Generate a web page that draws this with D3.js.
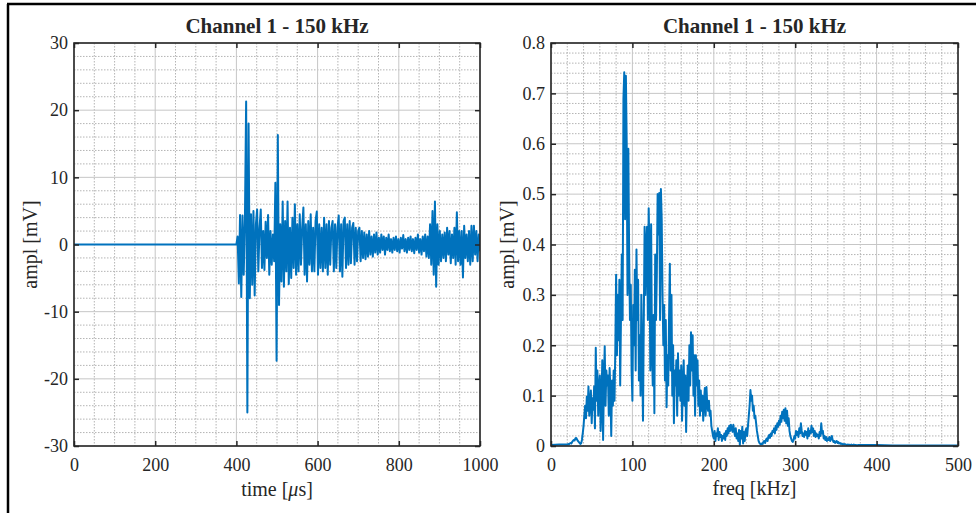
<!DOCTYPE html>
<html>
<head>
<meta charset="utf-8">
<script src="https://cdn.jsdelivr.net/npm/d3@7"></script>
<style>
  body { margin: 0; background: #fff; }
  svg { display: block; }
  text { font-family: "Liberation Serif", "Times New Roman", serif; fill: #262626; }
</style>
</head>
<body>
<svg id="fig" width="976" height="513"></svg>
<script>
// ---- Channel 1 waveform (time domain) ----
const waveStartUs = 400;
const waveStepUs = 3;
const waveMv = [
  0.0, 1.2, -5.8, 4.4, -7.8, 4.3, -4.5, 3.8, 21.3, -25.0,
  18.0, -8.0, 4.5, -6.0, 5.0, -7.6, 3.0, 5.2, -4.0, 2.5,
  5.2, -3.5, 2.0, -3.8, 3.4, -2.0, 4.4, -4.5, 2.0, -3.0,
  1.5, -2.5, 9.2, -17.3, 16.3, -9.0, 3.0, -5.5, 6.4, -6.3,
  3.5, -4.0, 6.4, -5.9, 2.5, -5.0, 4.0, -3.5, 6.0, -4.5,
  3.0, -4.0, 4.5, -3.0, 2.5, 5.5, -4.5, 3.0, -5.5, 3.5,
  -3.0, 4.5, -4.0, 2.5, -4.0, 3.5, 4.9, -4.5, 3.0, -3.5,
  2.5, -4.0, 4.0, -3.5, 3.0, -4.5, 3.5, -3.0, 2.5, 3.5,
  -4.0, 3.0, -3.5, 2.5, 4.3, -4.0, 3.0, -4.8, 3.5, 4.0,
  -3.5, 3.0, -3.0, 3.5, -2.8, 2.5, 3.2, -3.0, 2.5, -2.5,
  2.0, 2.5, -2.5, 2.0, -2.0, 1.8, -2.2, 1.5, -1.8, 2.0,
  -1.5, 1.2, -1.8, 1.5, -1.2, 1.8, -1.5, 1.0, -1.2, 1.5,
  -0.8, 1.2, -1.5, 1.0, -0.8, 1.5, -1.0, 0.8, -1.2, 1.0,
  -0.8, 1.2, -1.0, 0.8, -1.2, 1.0, -0.6, 1.4, -1.0, 0.8,
  -1.2, 1.0, -0.8, 1.2, -1.0, 0.8, -1.3, 1.0, -0.8, 1.5,
  -1.2, 0.8, -1.5, 1.2, -1.0, 1.5, -1.8, 1.2, -2.0, 3.0,
  -3.0, 5.0, -4.5, 6.4, -6.3, 3.0, -3.0, 2.0, -2.5, 1.5,
  -2.0, 1.8, -2.5, 2.5, -1.5, 2.0, -2.8, 1.5, -2.0, 2.5,
  -3.0, 4.8, -2.5, 2.0, -3.0, 2.0, -4.9, 2.8, -2.0, 1.5,
  -2.5, 2.0, -3.0, 2.8, -2.5, 2.8, -1.5, 2.0, -2.5, 1.5,
  -1.0
];

// ---- Channel 1 amplitude spectrum ----
const specHeadKHz = [0, 10, 19];
const specHeadMv = [0.002, 0.003, 0.003];
const specStartKHz = 20;
const specStepKHz = 1;
const specMv = [
  // 20-29
  0.003, 0.004, 0.003, 0.005, 0.006, 0.005, 0.008, 0.010, 0.012, 0.011,
  // 30-39
  0.015, 0.016, 0.013, 0.010, 0.008, 0.006, 0.004, 0.005, 0.012, 0.025,
  // 40-49
  0.040, 0.062, 0.080, 0.055, 0.098, 0.070, 0.118, 0.060, 0.085, 0.110,
  // 50-59
  0.045, 0.095, 0.072, 0.118, 0.035, 0.195, 0.090, 0.150, 0.060, 0.115,
  // 60-69
  0.140, 0.030, 0.085, 0.170, 0.012, 0.125, 0.198, 0.080, 0.150, 0.120,
  // 70-79
  0.140, 0.060, 0.155, 0.110, 0.020, 0.130, 0.080, 0.150, 0.090, 0.190,
  // 80-89
  0.340, 0.180, 0.300, 0.210, 0.330, 0.120, 0.260, 0.380, 0.250, 0.690,
  // 90-99
  0.742, 0.450, 0.735, 0.600, 0.300, 0.590, 0.380, 0.250, 0.320, 0.150,
  // 100-109
  0.090, 0.280, 0.200, 0.350, 0.150, 0.390, 0.250, 0.330, 0.130, 0.220,
  // 110-119
  0.100, 0.300, 0.180, 0.050, 0.250, 0.435, 0.300, 0.400, 0.435, 0.250,
  // 120-129
  0.472, 0.380, 0.150, 0.440, 0.200, 0.120, 0.260, 0.065, 0.380, 0.250,
  // 130-139
  0.340, 0.500, 0.420, 0.502, 0.250, 0.510, 0.450, 0.300, 0.200, 0.280,
  // 140-149
  0.130, 0.250, 0.077, 0.180, 0.120, 0.250, 0.362, 0.150, 0.300, 0.100,
  // 150-159
  0.200, 0.045, 0.150, 0.120, 0.170, 0.060, 0.184, 0.100, 0.150, 0.090,
  // 160-169
  0.160, 0.050, 0.120, 0.170, 0.080, 0.140, 0.028, 0.110, 0.160, 0.090,
  // 170-179
  0.200, 0.120, 0.226, 0.150, 0.220, 0.100, 0.180, 0.060, 0.180, 0.120,
  // 180-189
  0.170, 0.080, 0.130, 0.060, 0.110, 0.070, 0.100, 0.050, 0.090, 0.115,
  // 190-199
  0.060, 0.117, 0.080, 0.070, 0.090, 0.060, 0.070, 0.040, 0.030, 0.020,
  // 200-209
  0.015, 0.030, 0.010, 0.025, 0.020, 0.035, 0.012, 0.028, 0.018, 0.022,
  // 210-219
  0.010, 0.020, 0.015, 0.025, 0.012, 0.030, 0.020, 0.035, 0.025, 0.040,
  // 220-229
  0.030, 0.042, 0.035, 0.028, 0.042, 0.030, 0.020, 0.035, 0.015, 0.025,
  // 230-239
  0.010, 0.032, 0.002, 0.030, 0.015, 0.038, 0.005, 0.028, 0.010, 0.030,
  // 240-249
  0.035, 0.020, 0.040, 0.060, 0.080, 0.111, 0.090, 0.100, 0.070, 0.080,
  // 250-259
  0.055, 0.060, 0.045, 0.030, 0.020, 0.010, 0.006, 0.004, 0.003, 0.005,
  // 260-269
  0.004, 0.008, 0.010, 0.006, 0.012, 0.015, 0.010, 0.018, 0.022, 0.016,
  // 270-279
  0.025, 0.020, 0.030, 0.028, 0.035, 0.025, 0.040, 0.032, 0.045, 0.038,
  // 280-289
  0.050, 0.042, 0.060, 0.048, 0.068, 0.055, 0.072, 0.050, 0.075, 0.045,
  // 290-299
  0.070, 0.040, 0.055, 0.030, 0.020, 0.015, 0.010, 0.008, 0.012, 0.020,
  // 300-309
  0.015, 0.030, 0.022, 0.028, 0.018, 0.035, 0.025, 0.045, 0.030, 0.020,
  // 310-319
  0.025, 0.018, 0.030, 0.022, 0.028, 0.015, 0.035, 0.020, 0.030, 0.025,
  // 320-329
  0.040, 0.028, 0.035, 0.020, 0.030, 0.018, 0.025, 0.020, 0.022, 0.015,
  // 330-339
  0.028, 0.020, 0.045, 0.025, 0.030, 0.015, 0.020, 0.012, 0.018, 0.010,
  // 340-349
  0.015, 0.012, 0.018, 0.010, 0.014, 0.020, 0.012, 0.008, 0.010, 0.006,
  // 350-359
  0.008, 0.010, 0.006, 0.008, 0.005, 0.006, 0.004, 0.005, 0.003, 0.004,
  // 360-369
  0.003, 0.004, 0.003, 0.002, 0.003, 0.002, 0.003, 0.002, 0.002, 0.003,
  // 370-379
  0.002, 0.002, 0.003, 0.002, 0.002, 0.002, 0.001, 0.002, 0.002, 0.002
];
const specTailKHz = [385, 400, 420, 450, 480, 500];
const specTailMv = [0.002, 0.002, 0.001, 0.001, 0.001, 0.001];

// ---- Tick labels ----
const timeTicks = [0, 200, 400, 600, 800, 1000];
const timeTickLabels = ["0", "200", "400", "600", "800", "1000"];
const waveAmpTicks = [-30, -20, -10, 0, 10, 20, 30];
const waveAmpTickLabels = ["-30", "-20", "-10", "0", "10", "20", "30"];
const freqTicks = [0, 100, 200, 300, 400, 500];
const freqTickLabels = ["0", "100", "200", "300", "400", "500"];
const specAmpTicks = [0, 0.1, 0.2, 0.3, 0.4, 0.5, 0.6, 0.7, 0.8];
const specAmpTickLabels = ["0", "0.1", "0.2", "0.3", "0.4", "0.5", "0.6", "0.7", "0.8"];

// ---- Assemble point lists ----
const wavePoints = [[0, 0]].concat(
  waveMv.map((v, i) => [waveStartUs + i * waveStepUs, v])
);
const specPoints = specHeadKHz.map((f, i) => [f, specHeadMv[i]])
  .concat(specMv.map((v, i) => [specStartKHz + i * specStepKHz, v]))
  .concat(specTailKHz.map((f, i) => [f, specTailMv[i]]));

const svg = d3.select("#fig");
const LINE_COLOR = "#0072BD";
const AXIS_COLOR = "#262626";

// figure frame (left and top edges)
svg.append("line").attr("x1", 8).attr("y1", 4).attr("x2", 8).attr("y2", 513)
  .attr("stroke", "#000").attr("stroke-width", 2.5);
svg.append("line").attr("x1", 7).attr("y1", 4).attr("x2", 976).attr("y2", 4)
  .attr("stroke", "#000").attr("stroke-width", 2.5);

function drawPanel(cfg) {
  const x = d3.scaleLinear().domain(cfg.xDomain).range([cfg.left, cfg.right]);
  const y = d3.scaleLinear().domain(cfg.yDomain).range([cfg.bottom, cfg.top]);
  const g = svg.append("g");
  const w = cfg.right - cfg.left, h = cfg.bottom - cfg.top;

  // minor grid (dotted)
  const xMinor = d3.range(cfg.xDomain[0], cfg.xDomain[1] + 1e-9, cfg.xMinorStep)
    .filter(v => !cfg.xTicks.some(t => Math.abs(t - v) < 1e-9));
  const yMinor = d3.range(cfg.yDomain[0], cfg.yDomain[1] + 1e-9, cfg.yMinorStep)
    .filter(v => !cfg.yTicks.some(t => Math.abs(t - v) < 1e-9));
  const grid = g.append("g");
  grid.selectAll(".xm").data(xMinor).join("line")
    .attr("x1", d => x(d)).attr("x2", d => x(d))
    .attr("y1", cfg.top).attr("y2", cfg.bottom)
    .attr("stroke", "#b4b4b4").attr("stroke-width", 1).attr("stroke-dasharray", "1.5,1.5");
  grid.selectAll(".ym").data(yMinor).join("line")
    .attr("x1", cfg.left).attr("x2", cfg.right)
    .attr("y1", d => y(d)).attr("y2", d => y(d))
    .attr("stroke", "#b4b4b4").attr("stroke-width", 1).attr("stroke-dasharray", "1.5,1.5");
  // major grid
  grid.selectAll(".xM").data(cfg.xTicks).join("line")
    .attr("x1", d => x(d)).attr("x2", d => x(d))
    .attr("y1", cfg.top).attr("y2", cfg.bottom)
    .attr("stroke", "#c6c6c6").attr("stroke-width", 1);
  grid.selectAll(".yM").data(cfg.yTicks).join("line")
    .attr("x1", cfg.left).attr("x2", cfg.right)
    .attr("y1", d => y(d)).attr("y2", d => y(d))
    .attr("stroke", "#c6c6c6").attr("stroke-width", 1);

  // data line
  const clipId = "clip-" + cfg.id;
  svg.append("clipPath").attr("id", clipId).append("rect")
    .attr("x", cfg.left).attr("y", cfg.top - 1).attr("width", w).attr("height", h + 2);
  g.append("path")
    .datum(cfg.points)
    .attr("clip-path", `url(#${clipId})`)
    .attr("fill", "none")
    .attr("stroke", LINE_COLOR)
    .attr("stroke-width", 2)
    .attr("stroke-linejoin", "round")
    .attr("d", d3.line().x(d => x(d[0])).y(d => y(d[1])));

  // axes with inward ticks on all four sides
  const fmtX = d => cfg.xTickLabels[cfg.xTicks.indexOf(d)];
  const fmtY = d => cfg.yTickLabels[cfg.yTicks.indexOf(d)];
  const styleAxis = sel => {
    sel.select(".domain").remove();
    sel.selectAll(".tick line").attr("stroke", AXIS_COLOR).attr("stroke-width", 1.5);
    sel.selectAll(".tick text").attr("fill", AXIS_COLOR).style("font-size", "18px")
      .style("font-family", '"Liberation Serif", "Times New Roman", serif');
  };
  g.append("g").attr("transform", `translate(0,${cfg.bottom})`)
    .call(d3.axisBottom(x).tickValues(cfg.xTicks).tickFormat(fmtX).tickSizeInner(-5).tickSizeOuter(0).tickPadding(12))
    .call(styleAxis);
  g.append("g").attr("transform", `translate(0,${cfg.top})`)
    .call(d3.axisTop(x).tickValues(cfg.xTicks).tickFormat("").tickSizeInner(-5).tickSizeOuter(0))
    .call(styleAxis);
  g.append("g").attr("transform", `translate(${cfg.left},0)`)
    .call(d3.axisLeft(y).tickValues(cfg.yTicks).tickFormat(fmtY).tickSizeInner(-5).tickSizeOuter(0).tickPadding(6))
    .call(styleAxis);
  g.append("g").attr("transform", `translate(${cfg.right},0)`)
    .call(d3.axisRight(y).tickValues(cfg.yTicks).tickFormat("").tickSizeInner(-5).tickSizeOuter(0))
    .call(styleAxis);

  // axes box
  g.append("rect").attr("x", cfg.left).attr("y", cfg.top).attr("width", w).attr("height", h)
    .attr("fill", "none").attr("stroke", AXIS_COLOR).attr("stroke-width", 1.6);

  // title and labels
  const cx = (cfg.left + cfg.right) / 2;
  g.append("text").attr("x", cx).attr("y", 33).attr("text-anchor", "middle")
    .style("font-size", "21px").style("font-weight", "bold").attr("fill", "#000")
    .text(cfg.title);
  const xl = g.append("text").attr("x", cx).attr("y", cfg.xLabelY).attr("text-anchor", "middle")
    .style("font-size", "20px");
  cfg.xLabel(xl);
  g.append("text")
    .attr("transform", `translate(${cfg.yLabelX},${(cfg.top + cfg.bottom) / 2}) rotate(-90)`)
    .attr("text-anchor", "middle").style("font-size", "20px")
    .text(cfg.yLabel);
}

drawPanel({
  id: "time",
  left: 74, right: 480, top: 43, bottom: 446,
  xDomain: [0, 1000], yDomain: [-30, 30],
  xTicks: timeTicks, xTickLabels: timeTickLabels,
  yTicks: waveAmpTicks, yTickLabels: waveAmpTickLabels,
  xMinorStep: 50, yMinorStep: 2,
  points: wavePoints,
  title: "Channel 1 - 150 kHz",
  xLabelY: 496,
  xLabel: t => {
    t.append("tspan").text("time [");
    t.append("tspan").style("font-style", "italic").text("\u03BC");
    t.append("tspan").text("s]");
  },
  yLabelX: 37,
  yLabel: "ampl [mV]"
});

drawPanel({
  id: "freq",
  left: 551, right: 958, top: 43, bottom: 446,
  xDomain: [0, 500], yDomain: [0, 0.8],
  xTicks: freqTicks, xTickLabels: freqTickLabels,
  yTicks: specAmpTicks, yTickLabels: specAmpTickLabels,
  xMinorStep: 20, yMinorStep: 0.02,
  points: specPoints,
  title: "Channel 1 - 150 kHz",
  xLabelY: 495,
  xLabel: t => t.text("freq [kHz]"),
  yLabelX: 514,
  yLabel: "ampl [mV]"
});
</script>
</body>
</html>
